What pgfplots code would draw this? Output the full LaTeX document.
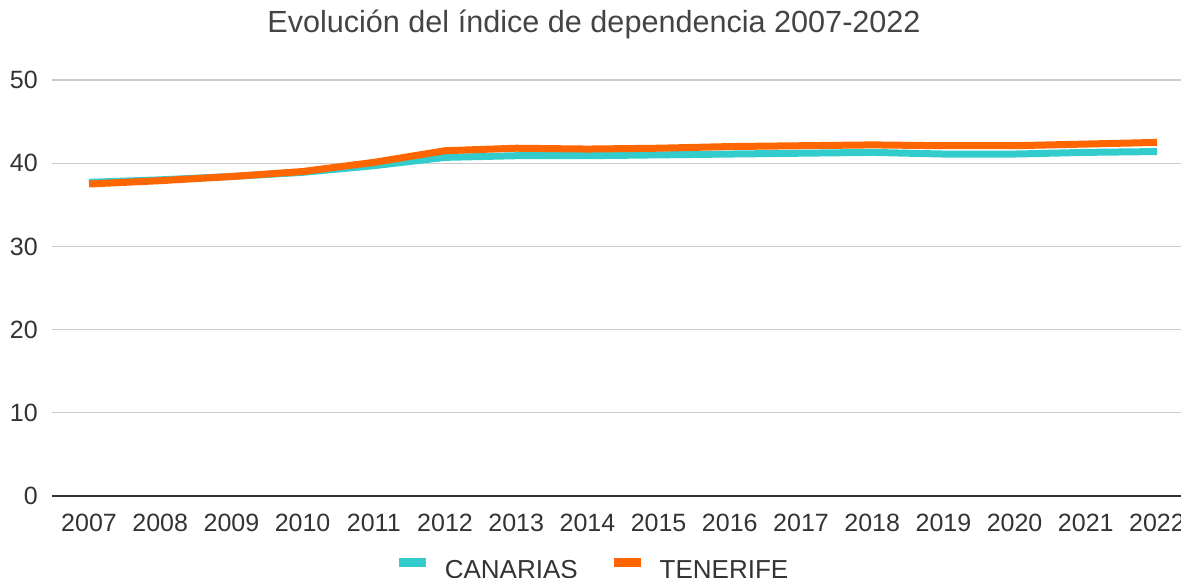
\documentclass[border=0pt]{standalone}
\usepackage{pgfplots}
\pgfplotsset{compat=1.18}
\usepackage{fontspec}
\setmainfont{Liberation Sans}
\definecolor{canarias}{HTML}{33CCCC}
\definecolor{tenerife}{HTML}{FF6600}
\definecolor{gridgray}{HTML}{CCCCCC}
\definecolor{axisdark}{HTML}{333333}
\definecolor{titlegray}{HTML}{444444}
\begin{document}
\begin{tikzpicture}
\begin{axis}[
  at={(52pt,82pt)}, anchor=south west,
  scale only axis, width=1142pt, height=416pt,
  xmin=2006.48, xmax=2022.52, ymin=0, ymax=50,
  xtick={2007,2008,...,2022}, ytick={0,10,...,50},
  /pgf/number format/assume math mode=true,
  /pgf/number format/1000 sep={},
  axis line style={draw=none},
  tick style={draw=none}, major tick length=0pt,
  ymajorgrids, grid style={gridgray, line width=1.3pt},
  extra y ticks={0}, extra y tick labels={},
  extra y tick style={ymajorgrids=true, grid style={axisdark, line width=1.6pt}},
  title={Evolución del índice de dependencia 2007-2022},
  title style={at={(0.4746,1)}, anchor=base, yshift=42pt, inner sep=0pt,
    font=\fontsize{30.6}{37}\selectfont, text=titlegray},
  xticklabel style={anchor=base, inner sep=0pt, yshift=-36pt,
    font=\fontsize{25}{30}\selectfont, text=axisdark},
  yticklabel style={anchor=east, inner sep=0pt, xshift=-14pt,
    font=\fontsize{25}{30}\selectfont, text=axisdark},
  legend columns=2,
  legend style={at={(0.4742,-0.1755)}, anchor=center, draw=none, fill=none,
    inner sep=0pt, outer sep=0pt, column sep=19pt,
    /tikz/column 2/.style={column sep=36pt},
    nodes={inner sep=0pt},
    font=\fontsize{26}{31}\selectfont, text=axisdark},
  legend image code/.code={\fill[#1, draw=none] (0pt,3pt) rectangle (27pt,12pt);},
]
\addplot[canarias, line width=7pt, line join=round] coordinates {
(2007,37.7) (2008,38.0) (2009,38.4) (2010,38.9) (2011,39.7) (2012,40.7)
(2013,40.9) (2014,40.9) (2015,41.0) (2016,41.1) (2017,41.2) (2018,41.3)
(2019,41.1) (2020,41.1) (2021,41.3) (2022,41.4)};
\addlegendentry{CANARIAS}
\addplot[tenerife, line width=7pt, line join=round] coordinates {
(2007,37.5) (2008,37.9) (2009,38.4) (2010,39.0) (2011,40.1) (2012,41.5)
(2013,41.8) (2014,41.7) (2015,41.8) (2016,42.0) (2017,42.1) (2018,42.2)
(2019,42.1) (2020,42.1) (2021,42.3) (2022,42.5)};
\addlegendentry{TENERIFE}
\end{axis}
\pgfresetboundingbox
\useasboundingbox (0,0) rectangle (1181pt,578pt);
\end{tikzpicture}
\end{document}
